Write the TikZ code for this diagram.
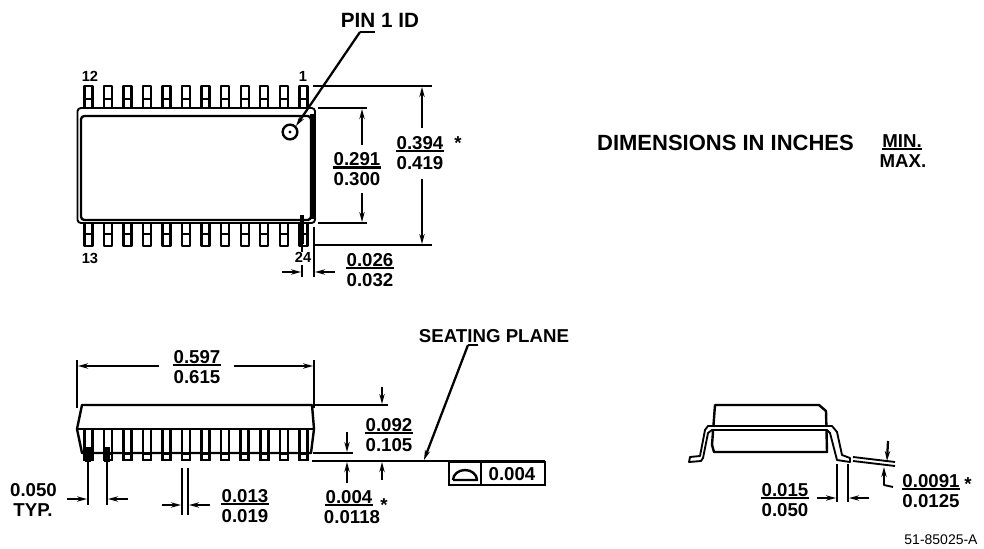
\documentclass[tikz,border=0pt]{standalone}
\usepackage{fontspec}
\usetikzlibrary{arrows.meta}
\setmainfont{Liberation Sans}
\begin{document}
\begin{tikzpicture}[x=0.75pt,y=-0.75pt,>={Stealth[length=7.5pt,width=4pt]},
	outline/.style={line width=1.8pt,line join=round},
	thinline/.style={line width=1.4pt,line join=round},
	dimline/.style={line width=1.7pt},
	dimtext/.style={font=\fontsize{14}{15}\selectfont\bfseries,inner xsep=0pt,inner ysep=1.2pt,text depth=0pt},
	pinnum/.style={font=\fontsize{11}{12}\selectfont\bfseries,inner sep=0pt},
	cadtext/.style={font=\fontsize{14}{16}\selectfont\bfseries,inner sep=0pt}]
	\useasboundingbox (0,0) rectangle (984,549);
	% top view
	\foreach \i in {0,...,11} {
		\pgfmathsetmacro{\xp}{88.3+19.55*\i}
		\draw[outline,fill=white] (\xp-4,86) rectangle (\xp+4,108) (\xp-4,99) -- (\xp+4,99);
		\draw[outline,fill=white] (\xp-4,223) rectangle (\xp+4,246) (\xp-4,234) -- (\xp+4,234);
	}
	\draw[thinline,rounded corners=2.5pt] (77.5,108) rectangle (315,223);
	\draw[outline,rounded corners=2.5pt] (81,116) rectangle (311,220);
	\draw[line width=3.4pt] (312.5,114) -- (312.5,219);
	\node[pinnum] (pintwelve) at (90,76) {12};
	\node[pinnum] (pinone) at (303,76) {1};
	\node[pinnum] (pinthirteen) at (90,258) {13};
	\node[pinnum] (pintwentyfour) at (303,257) {24};
	\node[draw,circle,line width=1.8pt,minimum size=11pt,inner sep=0pt] (pinmark) at (290,132) {};
	\fill (290,132) circle (1.6);
	\node[cadtext,font=\fontsize{15.5}{16}\selectfont\bfseries] (pinid) at (380,20) {PIN 1 ID};
	\coordinate (pinelbow) at (360,32);
	\draw[dimline] (375,32) -- (pinelbow);
	\draw[dimline,->] (pinelbow) -- (pinmark.45);
	\draw[line width=2.8pt] (302,215) -- (302,244);
	\draw[dimline] (302,244) -- (302,252) (302,265) -- (302,277) (314,227) -- (314,277);
	% side view
	\draw[outline] (82,405) -- (312,405) -- (314,429) -- (311,453) -- (82,453) -- (77,429) -- cycle;
	\foreach \i in {0,...,11} {
		\pgfmathsetmacro{\xp}{88.3+19.55*\i}
		\draw[line width=1.9pt,fill=white] (\xp-4,429) -- (\xp-4,460) -- (\xp+4,460) -- (\xp+4,429);
		\draw[line width=2.4pt] (\xp-4,453.5) -- (\xp+4,453.5);
	}
	\draw[line width=2.2pt] (77,429) -- (314,429);
	\draw[line width=4.5pt] (88,447) -- (88,462) (107,447) -- (107,462);
	\foreach \xa/\ya/\xb/\yb in {
		313/86/432/86, 313/245/432/245, 318/108/367/108, 318/223/367/223,
		77/360/77/408, 314/360/314/408, 314/405/388/405, 313/453/353/453, 312/461/545/461,
		88/447/88/505, 107/447/107/505, 182/468/182/515, 188/468/188/515,
		837/464/837/502, 848/464/848/502} {
		\draw[dimline] (\xa,\ya) -- (\xb,\yb);
	}
	\foreach \xa/\ya/\xb/\yb in {
		422/128/422/87, 422/179/422/244, 362/145/362/109, 362/193/362/222,
		282/272/301/272, 335/272/315/272, 159/366/78/366, 234/366/313/366,
		382/387/382/404, 382/480/382/462, 347/432/347/452, 347/483/347/462,
		67/499/87/499, 128/499/108/499, 162/505/181/505, 210/505/189/505,
		817/498/836/498, 869/498/849/498, 888/441/887/461} {
		\draw[dimline,->] (\xa,\ya) -- (\xb,\yb);
	}
	\node[cadtext] (seatingtext) at (494,336) {SEATING PLANE};
	\coordinate (seatingelbow) at (468,345);
	\draw[dimline] (478,345) -- (seatingelbow);
	\draw[dimline,->] (seatingelbow) -- (424,460);
	\draw[line width=1.8pt] (449,462) rectangle (545,485) (481,462) -- (481,485);
	\draw[outline] (453,480) -- (477,480) arc (0:-180:12 and 10);
	\node[dimtext] (flatness) at (512,474) {0.004};
	% dimension values
	\foreach \name/\xc/\yc/\upper/\lower in {
		inner/357/167.5/0.291/0.300, total/420/151/0.394/0.419, lead/370/268/0.026/0.032,
		length/197/365/0.597/0.615, height/389/433/0.092/0.105, width/245/504/0.013/0.019,
		foot/785/498/0.015/0.050, thick/931/489/0.0091/0.0125} {
		\node[dimtext,anchor=south] (\name up) at (\xc,\yc) {\upper};
		\node[dimtext,anchor=north] (\name low) at (\xc,\yc+3.5) {\lower};
		\draw[line width=1.7pt] (\name up.south west) -- (\name up.south east);
	}
	\node[dimtext,anchor=south] (standup) at (349,505) {0.004};
	\node[dimtext,anchor=north] (standlow) at (352,508.5) {0.0118};
	\draw[line width=1.7pt] (standup.south west) -- (standup.south east);
	\node[dimtext] (pitch) at (33.5,490) {0.050};
	\node[dimtext] (pitchtyp) at (33,510) {TYP.};
	\foreach \name/\xc/\yc in {stara/458/143, starb/384/505, starc/968/484} {
		\node[dimtext] (\name) at (\xc,\yc) {*};
	}
	% end view
	\draw[outline] (715,405) -- (819,405) -- (826,411) -- (827,452) -- (714,452) -- (712,445) -- cycle;
	\draw[thinline,fill=white] (690,457) -- (700,456) -- (705,430) -- (708,426) -- (832,426) -- (837,432) -- (842,455) -- (850,458) -- (850,462)
		-- (837,460) -- (830,433) -- (827,430) -- (712,430) -- (708,433) -- (703,458) -- (701,461) -- (689,462) -- cycle;
	\draw[thinline] (853,457) -- (895,462) (853,461) -- (895,466);
	\draw[thinline] (893,487) -- (884,485) -- (884,472);
	\draw[dimline,->] (884,485) -- (884,467);
	% notes
	\node[cadtext,font=\fontsize{16.5}{18}\selectfont\bfseries] (dimnote) at (725.5,143) {DIMENSIONS IN INCHES};
	\node[dimtext,anchor=south] (minlabel) at (902,149) {MIN.};
	\node[dimtext,anchor=north] (maxlabel) at (903,153) {MAX.};
	\draw[line width=1.7pt] (minlabel.south west) -- (minlabel.south east);
	\node[font=\fontsize{10.5}{12}\selectfont,inner sep=0pt] (drawingno) at (941,540) {51-85025-A};
\end{tikzpicture}
\end{document}
